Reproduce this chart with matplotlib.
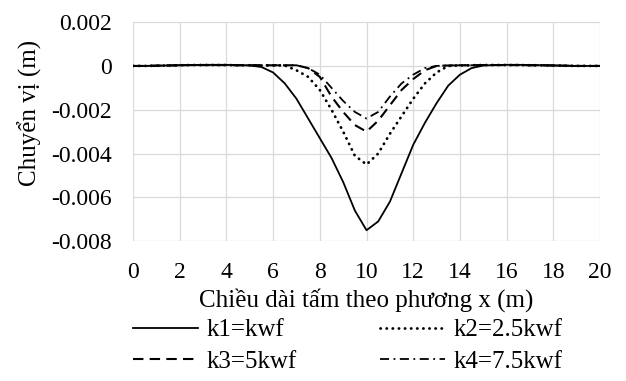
import numpy as np
import matplotlib.pyplot as plt

plt.rcParams['font.family'] = ['Liberation Serif', 'DejaVu Serif']

# positions along the plate (m)
x = np.arange(0, 20.5, 0.5)

# deflection (m) for each foundation stiffness
k1 = [0, 0, 0.00001, 0.00002, 0.00003, 0.00004, 0.00005, 0.00005, 0.00005, 0.00004,
      0.00002, -0.00005, -0.0003, -0.0008, -0.0015, -0.0024, -0.0033, -0.0042, -0.0053, -0.0066,
      -0.0075, -0.0071, -0.0062, -0.0049, -0.0036, -0.0026, -0.0017, -0.0009, -0.0004, -0.0001,
      0.00002, 0.00004, 0.00005, 0.00005, 0.00004, 0.00003, 0.00002, 0.00001, 0, 0, 0]
k2 = [0, 0, 0.00001, 0.00002, 0.00003, 0.00004, 0.00004, 0.00004, 0.00004, 0.00003,
      0.00003, 0.00002, 0.00002, 0.00002, -0.0002, -0.0005, -0.0011, -0.0020, -0.0030, -0.0041,
      -0.0045, -0.0040, -0.0031, -0.0023, -0.0015, -0.0008, -0.0003, 0.0, 0.00002, 0.00003,
      0.00004, 0.00004, 0.00004, 0.00004, 0.00003, 0.00003, 0.00002, 0.00001, 0, 0, 0]
k3 = [0, 0, 0.00001, 0.00002, 0.00003, 0.00004, 0.00004, 0.00004, 0.00004, 0.00003,
      0.00003, 0.00003, 0.00003, 0.00003, 0.00003, -0.0001, -0.0005, -0.0014, -0.0021, -0.0027,
      -0.0030, -0.0025, -0.0018, -0.0011, -0.0006, -0.0002, 0.0, 0.00002, 0.00003, 0.00003,
      0.00004, 0.00004, 0.00004, 0.00004, 0.00003, 0.00003, 0.00002, 0.00001, 0, 0, 0]
k4 = [0, 0, 0.00001, 0.00002, 0.00003, 0.00004, 0.00004, 0.00004, 0.00004, 0.00003,
      0.00003, 0.00003, 0.00003, 0.00003, 0.00003, -0.0001, -0.0004, -0.0010, -0.0016, -0.0021,
      -0.0024, -0.0021, -0.0014, -0.0008, -0.0004, -0.0001, 0.0, 0.00002, 0.00003, 0.00003,
      0.00004, 0.00004, 0.00004, 0.00004, 0.00003, 0.00003, 0.00002, 0.00001, 0, 0, 0]

xticks = np.arange(0, 21, 2)
yticks = [0.002, 0, -0.002, -0.004, -0.006, -0.008]
ylabels = ['0.002', '0', '-0.002', '-0.004', '-0.006', '-0.008']

fig = plt.figure(figsize=(6.26, 3.81), dpi=100)
ax = fig.add_axes([0.2125, 0.367, 0.746, 0.575])

l1, = ax.plot(x, k1, color='black', lw=1.3, ls='-', label='k1=kwf')
l2, = ax.plot(x, k2, color='black', lw=2.0, ls=(0, (0.1, 2.1)),
              dash_capstyle='round', label='k2=2.5kwf')
l3, = ax.plot(x, k3, color='black', lw=1.5, ls=(0, (5, 3)), label='k3=5kwf')
l4, = ax.plot(x, k4, color='black', lw=1.3, ls=(0, (5, 2.5, 1, 2.5)), label='k4=7.5kwf')

ax.set_xlim(0, 20)
ax.set_ylim(-0.008, 0.002)
ax.set_xticks(xticks)
ax.set_yticks(yticks)
ax.set_yticklabels(ylabels)
ax.tick_params(length=0, labelsize=17, pad=15)
ax.grid(True, color='#d9d9d9', lw=0.9)
ax.set_axisbelow(True)
for s in ax.spines.values():
    s.set_visible(False)

ax.set_xlabel('Chiều dài tấm theo phương x (m)', fontsize=18, labelpad=4)
ax.set_ylabel('Chuyển vị (m)', fontsize=18)
ax.yaxis.set_label_coords(-0.195, 0.584)

# two legend rows: k1, k2 on top, k3, k4 below
fig.legend([l1, l3, l2, l4], ['k1=kwf', 'k3=5kwf', 'k2=2.5kwf', 'k4=7.5kwf'],
           loc='upper left', bbox_to_anchor=(0.2125, 0.163), ncol=2, frameon=False,
           fontsize=18, handlelength=2.6, handletextpad=0.35, columnspacing=3.3,
           labelspacing=0.35, borderpad=0, borderaxespad=0)

fig.savefig('out.png', dpi=100)
